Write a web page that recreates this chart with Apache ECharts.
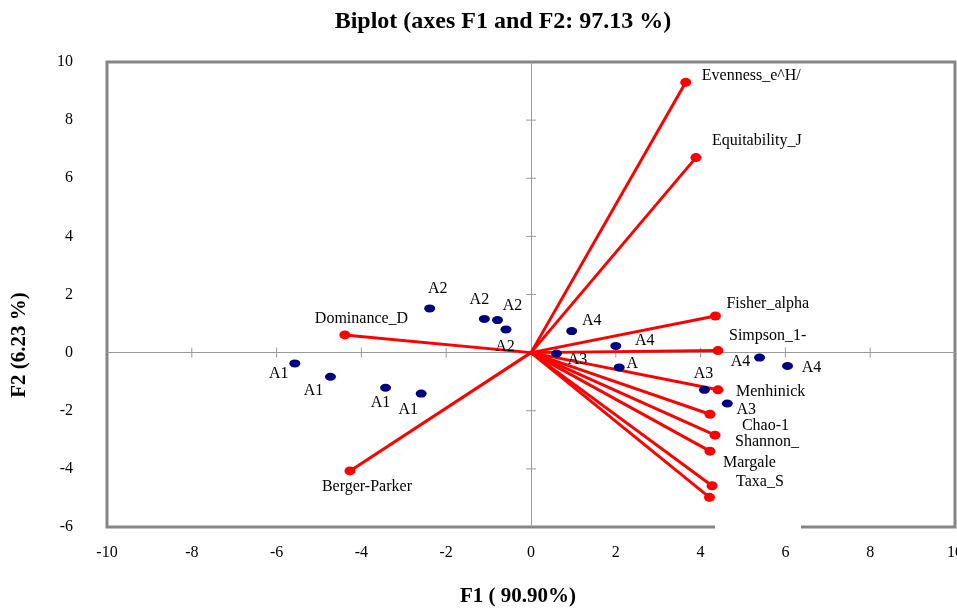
<!DOCTYPE html>
<html>
<head>
<meta charset="utf-8">
<title>Biplot</title>
<script src="https://cdn.jsdelivr.net/npm/echarts@6/dist/echarts.min.js"></script>
<style>
  html, body { margin: 0; padding: 0; background: #fff; }
  #chart { width: 957px; height: 610px; }
</style>
</head>
<body>
<div id="chart"></div>
<script>
// observations (F1, F2 scores)
const obsLabels = ['A1', 'A1', 'A1', 'A1', 'A2', 'A2', 'A2', 'A2', 'A3', 'A', 'A3', 'A3', 'A4', 'A4', 'A4', 'A4']
const obsF1 = [-5.57, -4.73, -3.43, -2.59, -2.39, -1.10, -0.79, -0.59, 0.60, 2.08, 4.09, 4.63, 0.96, 2.00, 5.39, 6.05]
const obsF2 = [-0.37, -0.83, -1.21, -1.41, 1.52, 1.16, 1.12, 0.80, -0.03, -0.51, -1.28, -1.75, 0.74, 0.23, -0.17, -0.46]

// variables (loading vectors)
const varLabels = ['Evenness_e^H/', 'Equitability_J', 'Fisher_alpha', 'Simpson_1-', 'Menhinick', 'Chao-1',
  'Shannon_', 'Margale', 'Taxa_S', '', 'Dominance_D', 'Berger-Parker']
const varF1 = [3.65, 3.89, 4.35, 4.41, 4.41, 4.22, 4.34, 4.22, 4.27, 4.21, -4.39, -4.27]
const varF2 = [9.30, 6.71, 1.26, 0.07, -1.28, -2.12, -2.84, -3.39, -4.58, -4.98, 0.61, -4.07]

const xTicks = [-10, -8, -6, -4, -2, 0, 2, 4, 6, 8, 10]
const yTicks = [-6, -4, -2, 0, 2, 4, 6, 8, 10]

// label placement (pixels)
const obsLabelOffset = [[-16, 10], [-17, 14], [-5, 15], [-13, 16], [8, -20], [-5, -19], [15, -14], [-1, 17],
  [21, 6], [13, -4], [-1, -16], [19, 6], [20, -10], [29, -5], [-19, 4], [24, 2]]
const varLabelOffset = [[16, -7], [16, -17], [11, -12], [11, -15], [18, 2], [32, 12], [20, 7], [13, 12],
  [24, -4], [0, 0], [-30, -16], [-28, 16]]

const serif = '"Liberation Serif", "Times New Roman", serif'
const frameGray = '#858585'
const axisGray = '#9a9a9a'

const chart = echarts.init(document.getElementById('chart'), undefined, { renderer: 'canvas' })

const xMin = xTicks[0], xMax = xTicks[xTicks.length - 1]
const yMin = yTicks[0], yMax = yTicks[yTicks.length - 1]

// crossing ticks on the zero lines, inner ticks only
const tickData = []
xTicks.forEach((t) => { if (t !== 0 && t !== xMin && t !== xMax) tickData.push([t, 0, 0]) })
yTicks.forEach((t) => { if (t !== 0 && t !== yMin && t !== yMax) tickData.push([0, t, 1]) })

function renderTick(params, api) {
  const p = api.coord([api.value(0), api.value(1)])
  const half = 5
  const vertical = api.value(2) === 0
  return {
    type: 'line',
    shape: vertical
      ? { x1: p[0], y1: p[1] - half, x2: p[0], y2: p[1] + half }
      : { x1: p[0] - half, y1: p[1], x2: p[0] + half, y2: p[1] },
    style: { stroke: axisGray, lineWidth: 1 },
  }
}

const option = {
  backgroundColor: '#fff',
  animation: false,
  textStyle: { fontFamily: serif },
  grid: {
    left: 107, right: 2, top: 62, bottom: 83,
    outerBoundsMode: 'none',
    show: true, borderColor: frameGray, borderWidth: 3, backgroundColor: 'transparent',
  },
  xAxis: [
    {
      type: 'value', min: xMin, max: xMax, interval: 2, position: 'bottom',
      splitLine: { show: false }, axisTick: { show: false },
      axisLine: { show: false },
      axisLabel: { margin: 18, color: '#000', fontSize: 16, fontFamily: serif },
    },
    {
      type: 'value', min: xMin, max: xMax, interval: 2,
      splitLine: { show: false }, axisTick: { show: false }, axisLabel: { show: false },
      axisLine: { show: true, onZero: true, onZeroAxisIndex: 0, lineStyle: { color: axisGray, width: 1 } },
    },
  ],
  yAxis: [
    {
      type: 'value', min: yMin, max: yMax, interval: 2, position: 'left',
      splitLine: { show: false }, axisTick: { show: false },
      axisLine: { show: false },
      axisLabel: { margin: 34, color: '#000', fontSize: 16, fontFamily: serif },
    },
    {
      type: 'value', min: yMin, max: yMax, interval: 2,
      splitLine: { show: false }, axisTick: { show: false }, axisLabel: { show: false },
      axisLine: { show: true, onZero: true, onZeroAxisIndex: 0, lineStyle: { color: axisGray, width: 1 } },
    },
  ],
  graphic: [
    {
      type: 'text', x: 503, y: 22,
      style: { text: 'Biplot (axes F1 and F2: 97.13 %)', font: 'bold 24px ' + serif, fill: '#000', align: 'center', verticalAlign: 'middle' },
      z: 100,
    },
    {
      type: 'text', x: 518, y: 597,
      style: { text: 'F1 ( 90.90%)', font: 'bold 21px ' + serif, fill: '#000', align: 'center', verticalAlign: 'middle' },
      z: 100,
    },
    {
      type: 'text', x: 20, y: 345, rotation: Math.PI / 2,
      style: { text: 'F2 (6.23 %)', font: 'bold 21px ' + serif, fill: '#000', align: 'center', verticalAlign: 'middle' },
      z: 100,
    },
    {
      type: 'rect', shape: { x: 715, y: 524, width: 86, height: 8 },
      style: { fill: '#fff' }, z: 100,
    },
  ],
  series: [
    {
      name: 'ticks',
      type: 'custom',
      silent: true,
      renderItem: renderTick,
      data: tickData,
      z: 1,
    },
    {
      name: 'vectors',
      type: 'lines',
      coordinateSystem: 'cartesian2d',
      silent: true,
      lineStyle: { color: '#ff0000', width: 3, opacity: 1 },
      data: varF1.map((x, i) => ({ coords: [[0, 0], [x, varF2[i]]] })),
      z: 2,
    },
    {
      name: 'variables',
      type: 'scatter',
      symbol: 'circle',
      symbolSize: [11, 9],
      itemStyle: { color: '#ff0000', opacity: 1 },
      data: varF1.map((x, i) => ({
        value: [x, varF2[i]],
        label: {
          show: varLabels[i] !== '',
          formatter: varLabels[i],
          position: 'inside',
          align: 'left',
          verticalAlign: 'middle',
          offset: varLabelOffset[i],
          color: '#000',
          fontSize: 16,
          fontFamily: serif,
          textBorderWidth: 0,
        },
      })),
      z: 3,
    },
    {
      name: 'observations',
      type: 'scatter',
      symbol: 'circle',
      symbolSize: [11, 8],
      itemStyle: { color: '#000080', opacity: 1 },
      data: obsF1.map((x, i) => ({
        value: [x, obsF2[i]],
        label: {
          show: true,
          formatter: obsLabels[i],
          position: 'inside',
          align: 'center',
          verticalAlign: 'middle',
          offset: obsLabelOffset[i],
          color: '#000',
          fontSize: 16,
          fontFamily: serif,
          textBorderWidth: 0,
        },
      })),
      z: 4,
    },
  ],
}

chart.setOption(option)
</script>
</body>
</html>
